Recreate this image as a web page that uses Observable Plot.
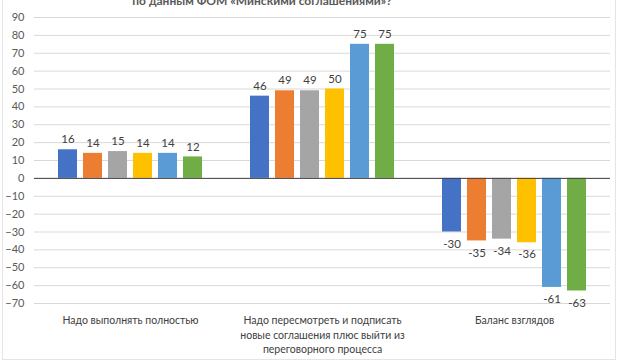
<!DOCTYPE html>
<html>
<head>
<meta charset="utf-8">
<script src="https://cdn.jsdelivr.net/npm/d3@7"></script>
<script src="https://cdn.jsdelivr.net/npm/@observablehq/plot@0.6"></script>
<style>
  html, body { margin: 0; padding: 0; background: #fff; overflow: hidden; }
  #wrap { position: relative; width: 620px; height: 364px; overflow: hidden; font-family: Lato, "Open Sans", sans-serif; }
  #title { position: absolute; top: -7px; left: 0; width: 524px; text-align: center; font-size: 12px; font-weight: bold; color: #595959; }
  #border { position: absolute; left: 2px; top: -2px; width: 614px; height: 362px; border: 1px solid #e4e4e4; box-sizing: border-box; pointer-events: none; }
  svg { display: block; }
</style>
</head>
<body>
<div id="wrap">
  <div id="chart"></div>
  <div id="title">по данным ФОМ «Минскими соглашениями»?</div>
  <div id="border"></div>
</div>
<script>
const categories = ["Надо выполнять полностью", "Надо пересмотреть и подписать новые соглашения плюс выйти из переговорного процесса", "Баланс взглядов"];
const categoryLabels = ["Надо выполнять полностью", "Надо пересмотреть и подписать\nновые соглашения плюс выйти из\nпереговорного процесса", "Баланс взглядов"];
const series = ["Ряд 1", "Ряд 2", "Ряд 3", "Ряд 4", "Ряд 5", "Ряд 6"];
const colors = ["#4472C4", "#ED7D31", "#A5A5A5", "#FFC000", "#5B9BD5", "#70AD47"];
const values1 = [16, 46, -30];
const values2 = [14, 49, -35];
const values3 = [15, 49, -34];
const values4 = [14, 50, -36];
const values5 = [14, 75, -61];
const values6 = [12, 75, -63];
const yTicks = [-70, -60, -50, -40, -30, -20, -10, 0, 10, 20, 30, 40, 50, 60, 70, 80, 90];

const seriesValues = [values1, values2, values3, values4, values5, values6];
const data = [];
categories.forEach((c, i) => {
  series.forEach((s, j) => data.push({cat: c, series: s, value: seriesValues[j][i]}));
});
const labelOf = new Map(categories.map((c, i) => [c, categoryLabels[i]]));

const chart = Plot.plot({
  width: 620,
  height: 364,
  marginTop: 17,
  marginBottom: 61,
  marginLeft: 33,
  marginRight: 9,
  style: {fontFamily: "Lato, 'Open Sans', sans-serif", background: "#fff"},
  fx: {domain: categories, padding: 0, label: null},
  x: {domain: series, paddingInner: 0.23, paddingOuter: 0.83, axis: null},
  y: {domain: [-70, 90], label: null},
  color: {domain: series, range: colors},
  marks: [
    Plot.gridY(yTicks, {stroke: "#d9d9d9", strokeOpacity: 1}),
    Plot.axisY(yTicks, {tickSize: 0, tickPadding: 10, fontSize: 11, fill: "#595959", label: null}),
    Plot.axisFx({anchor: "bottom", tickSize: 0, tickPadding: 10, fontSize: 10.5, fill: "#404040", lineHeight: 1.4, label: null, tickFormat: d => labelOf.get(d), textAnchor: "middle", lineAnchor: "top"}),
    Plot.barY(data, {fx: "cat", x: "series", y: "value", fill: "series"}),
    Plot.ruleY([0], {stroke: "#404040", strokeWidth: 1}),
    Plot.text(data.filter(d => d.value >= 0), {fx: "cat", x: "series", y: "value", text: d => String(d.value), dy: -10, fontSize: 11.5, fill: "#404040"}),
    Plot.text(data.filter(d => d.value < 0), {fx: "cat", x: "series", y: "value", text: d => String(d.value), dy: 12, fontSize: 11.5, fill: "#404040"})
  ]
});
document.getElementById("chart").appendChild(chart);
</script>
</body>
</html>
